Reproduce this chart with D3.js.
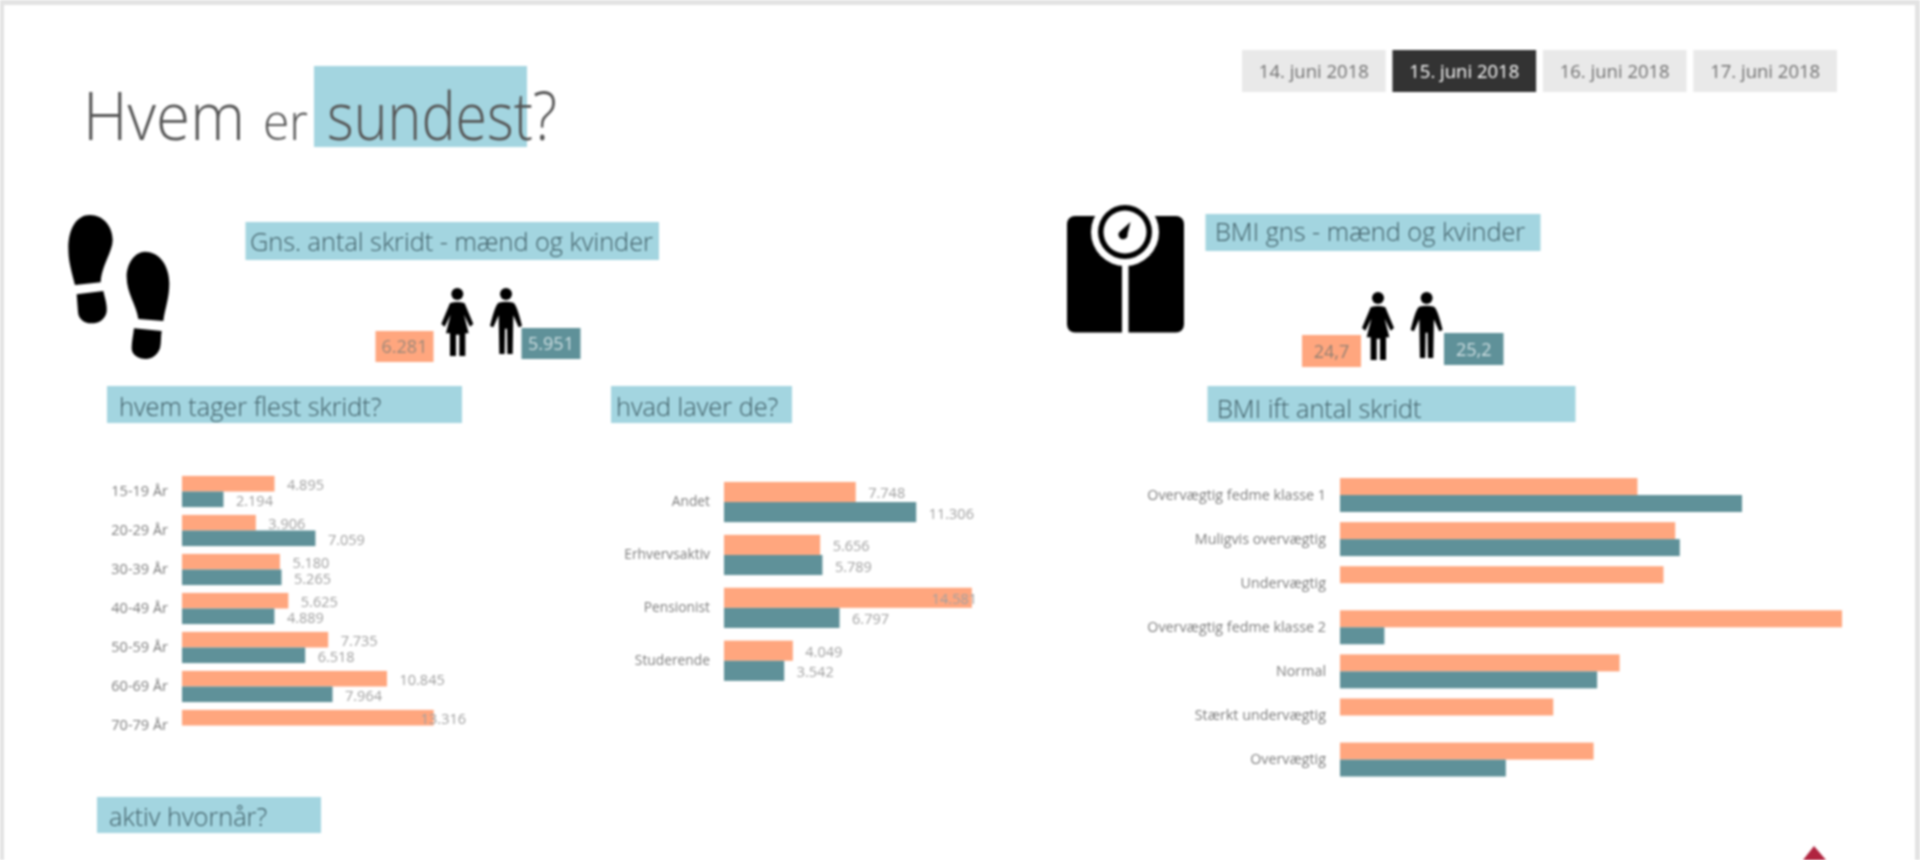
<!DOCTYPE html>
<html>
<head>
<meta charset="utf-8">
<title>Hvem er sundest?</title>
<script src="https://cdn.jsdelivr.net/npm/d3@7"></script>
<style>
  html, body { margin: 0; padding: 0; background: #fff; overflow: hidden; }
  svg { display: block; font-family: "Open Sans", sans-serif; filter: blur(0.8px); }
  .heading { fill: #3f5d65; font-size: 25.3px; font-weight: 300; }
  .tick text { fill: #7d7d7d; }
</style>
</head>
<body>
<div id="chart"></div>
<script>
var dates = ["14. juni 2018", "15. juni 2018", "16. juni 2018", "17. juni 2018"];
var activeDate = "15. juni 2018";

var ageGroups = ["15-19 År", "20-29 År", "30-39 År", "40-49 År", "50-59 År", "60-69 År", "70-79 År"];
var ageWomen = [4895, 3906, 5180, 5625, 7735, 10845, 13316];
var ageMen = [2194, 7059, 5265, 4889, 6518, 7964, null];

var jobGroups = ["Andet", "Erhvervsaktiv", "Pensionist", "Studerende"];
var jobWomen = [7748, 5656, 14581, 4049];
var jobMen = [11306, 5789, 6797, 3542];

var bmiGroups = ["Overvægtig fedme klasse 1", "Muligvis overvægtig", "Undervægtig", "Overvægtig fedme klasse 2", "Normal", "Stærkt undervægtig", "Overvægtig"];
var bmiWomen = [5830, 6570, 6340, 9840, 5480, 4180, 4970];
var bmiMen = [7880, 6660, null, 870, 5040, null, 3250];

var stepsWomen = 6281, stepsMen = 5951;
var bmiAvgWomen = 24.7, bmiAvgMen = 25.2;

var orange = "#ffa67e", teal = "#5f9199", highlight = "#a3d5e0";

var da = d3.formatLocale({decimal: ",", thousands: ".", grouping: [3], currency: ["", " kr"]});
var fmtSteps = da.format(",d"), fmtBmi = da.format(".1f");

var svg = d3.select("#chart").append("svg")
    .attr("width", 1920)
    .attr("height", 860);

// page frame
svg.append("rect").attr("width", 1920).attr("height", 860).attr("fill", "#e3e3e3");
svg.append("rect").attr("x", 4).attr("y", 5).attr("width", 1911).attr("height", 855).attr("fill", "#fff");

// date slicer
var dateX = d3.scaleBand().domain(dates).range([1242, 1837]).paddingInner(0.045).paddingOuter(0);
var btn = svg.selectAll(".date").data(dates).enter().append("g").attr("class", "date");
btn.append("rect")
    .attr("x", function(d) { return dateX(d); })
    .attr("y", 50)
    .attr("width", dateX.bandwidth())
    .attr("height", 42)
    .attr("fill", function(d) { return d == activeDate ? "#333333" : "#e9e9e9"; });
btn.append("text")
    .attr("x", function(d) { return dateX(d) + dateX.bandwidth() / 2; })
    .attr("y", 78)
    .attr("text-anchor", "middle")
    .attr("font-size", 18.5)
    .attr("fill", function(d) { return d == activeDate ? "#fff" : "#707070"; })
    .text(function(d) { return d; });

// title, squeezed to the width of the narrower original face
svg.append("rect").attr("x", 314).attr("y", 66).attr("width", 213).attr("height", 81).attr("fill", highlight);
function titlePart(label, x, size, len) {
    svg.append("text").attr("x", x).attr("y", 140)
        .attr("fill", "#555").attr("font-size", size).attr("font-weight", 300)
        .attr("textLength", len).attr("lengthAdjust", "spacingAndGlyphs")
        .text(label);
}
titlePart("Hvem", 83, 66, 162);
titlePart("er", 263, 50, 45);
titlePart("sundest?", 327, 66, 230);

// headings
function heading(label, x, y, w, h, tx, ty) {
    svg.append("rect").attr("x", x).attr("y", y).attr("width", w).attr("height", h).attr("fill", highlight);
    svg.append("text").attr("class", "heading").attr("x", tx).attr("y", ty).text(label);
}
heading("Gns. antal skridt - mænd og kvinder", 245.5, 222, 413.5, 38, 250, 251);
heading("BMI gns - mænd og kvinder", 1205.5, 214, 335, 37, 1215, 241);
heading("hvem tager flest skridt?", 107, 386, 355, 37, 119, 416);
heading("hvad laver de?", 611, 386, 181, 37, 616, 416);
heading("BMI ift antal skridt", 1207.5, 386, 368, 36, 1217, 418);
heading("aktiv hvornår?", 97, 797, 224, 36, 109, 826);

// average boxes
function statBox(label, x, y, w, h, fill, color) {
    svg.append("rect").attr("x", x).attr("y", y).attr("width", w).attr("height", h).attr("fill", fill);
    svg.append("text").attr("x", x + w / 2).attr("y", y + h / 2 + 6.5)
        .attr("text-anchor", "middle").attr("font-size", 18).attr("fill", color).text(label);
}
statBox(fmtSteps(stepsWomen), 375.5, 331, 58, 31, orange, "#9a8778");
statBox(fmtSteps(stepsMen), 521.5, 328, 59, 31, teal, "#cfdfe2");
statBox(fmtBmi(bmiAvgWomen), 1302, 335, 59, 32, orange, "#8f7f72");
statBox(fmtBmi(bmiAvgMen), 1444, 333, 59.5, 32, teal, "#cfdfe2");

// person icons, drawn around the head centre at 3x
var womanPath = "M-22,28 Q0,20 22,28 L48,90 L38,98 L20,62 L34,118 L24,118 L24,186 L6,186 L6,122 L-4,122 L-4,186 L-22,186 L-22,118 L-34,118 L-20,62 L-38,98 L-48,90 Z";
var manPath = "M-22,26 Q0,20 22,26 Q32,30 48,96 L38,100 L22,64 L20,180 L4,180 L3,104 L-3,104 L-4,180 L-20,180 L-22,64 L-38,100 L-48,96 Q-32,30 -22,26 Z";
function person(path, x, y) {
    var g = svg.append("g").attr("transform", "translate(" + x + "," + y + ") scale(0.3333)");
    g.append("circle").attr("r", 18);
    g.append("path").attr("d", path);
}
person(womanPath, 457.3, 294);
person(manPath, 506, 294);
person(womanPath, 1378, 298);
person(manPath, 1426.6, 298);

// footprints, traced at 3x from x=60, y=205
var feet = svg.append("g").attr("transform", "translate(60,205) scale(0.3333)");
feet.append("path").attr("d", "M90,30 C130,30 158,65 158,105 C158,140 125,180 122,232 L45,240 C35,200 25,170 25,130 C25,70 50,30 90,30 Z");
feet.append("path").attr("d", "M50,268 L130,258 C135,280 142,300 140,320 C135,345 115,355 95,355 C70,355 55,340 54,320 Z");
feet.append("path").attr("d", "M255,140 C300,140 328,185 328,235 C328,280 315,310 310,348 L235,342 C230,300 200,265 200,215 C200,175 225,140 255,140 Z");
feet.append("path").attr("d", "M222,370 L305,378 C302,395 304,415 300,430 C292,452 275,462 258,462 C235,462 215,450 215,430 C215,410 220,390 222,370 Z");

// scale icon
var scaleIcon = svg.append("g");
scaleIcon.append("rect").attr("x", 1067).attr("y", 216).attr("width", 117).attr("height", 116.5).attr("rx", 8).attr("fill", "#000");
scaleIcon.append("rect").attr("x", 1122).attr("y", 255).attr("width", 6.5).attr("height", 78).attr("fill", "#fff");
scaleIcon.append("circle").attr("cx", 1125).attr("cy", 232).attr("r", 34).attr("fill", "#fff");
scaleIcon.append("circle").attr("cx", 1125).attr("cy", 232).attr("r", 27).attr("fill", "#000");
scaleIcon.append("circle").attr("cx", 1125).attr("cy", 232).attr("r", 21.5).attr("fill", "#fff");
scaleIcon.append("path").attr("d", "M1130.5,222 L1127.5,234 A4.5,4.5 0 1 1 1120.5,231 Z").attr("fill", "#000");

// grouped bar charts
function drawBars(opts) {
    var y = d3.scaleBand().domain(opts.groups)
        .range([opts.top, opts.bottom]).paddingInner(opts.pad).paddingOuter(opts.pad / 2);
    var x = d3.scaleLinear().domain([0, opts.max]).range([opts.left, opts.right]);
    var barH = y.bandwidth() / 2;

    var g = svg.append("g");
    var axis = g.append("g")
        .attr("transform", "translate(" + opts.left + ",0)")
        .call(d3.axisLeft(y).tickSize(0).tickPadding(14))
        .attr("font-family", null)
        .attr("font-size", opts.fontSize);
    axis.select(".domain").remove();

    [{values: opts.women, color: orange, off: 0}, {values: opts.men, color: teal, off: 1}].forEach(function(s) {
        var rows = opts.groups.map(function(name, i) { return {name: name, value: s.values[i]}; })
            .filter(function(d) { return d.value != null; });

        g.selectAll(null).data(rows).enter().append("rect")
            .attr("x", x(0))
            .attr("y", function(d) { return y(d.name) + s.off * barH; })
            .attr("width", function(d) { return x(d.value) - x(0); })
            .attr("height", barH)
            .attr("fill", s.color);

        if (!opts.showLabels) return;
        g.selectAll(null).data(rows).enter().append("text")
            .attr("y", function(d) { return y(d.name) + s.off * barH + barH / 2 + 6.5; })
            .attr("font-size", 14.5)
            .attr("fill", "#a0a0a0")
            .text(function(d) { return fmtSteps(d.value); })
            .attr("x", function(d) {
                // labels are pushed back when they would leave the plot
                return Math.min(x(d.value) + 12.5, opts.labelEdge - this.getComputedTextLength());
            });
    });
}

drawBars({groups: ageGroups, women: ageWomen, men: ageMen, left: 182, right: 182 + 0.0189 * 14000, max: 14000,
    top: 472, bottom: 745, pad: 0.2, fontSize: 14.5, showLabels: true, labelEdge: 466});
drawBars({groups: jobGroups, women: jobWomen, men: jobMen, left: 724, right: 724 + 0.017 * 15000, max: 15000,
    top: 475.6, bottom: 687.2, pad: 0.24, fontSize: 13.8, showLabels: true, labelEdge: 977});
drawBars({groups: bmiGroups, women: bmiWomen, men: bmiMen, left: 1340, right: 1340 + 510.2, max: 10000,
    top: 473, bottom: 781.6, pad: 0.23, fontSize: 14.3, showLabels: false});

// report corner marker
svg.append("path").attr("d", "M1814,846 L1826,860 L1803,860 Z").attr("fill", "#b0243f");
</script>
</body>
</html>
